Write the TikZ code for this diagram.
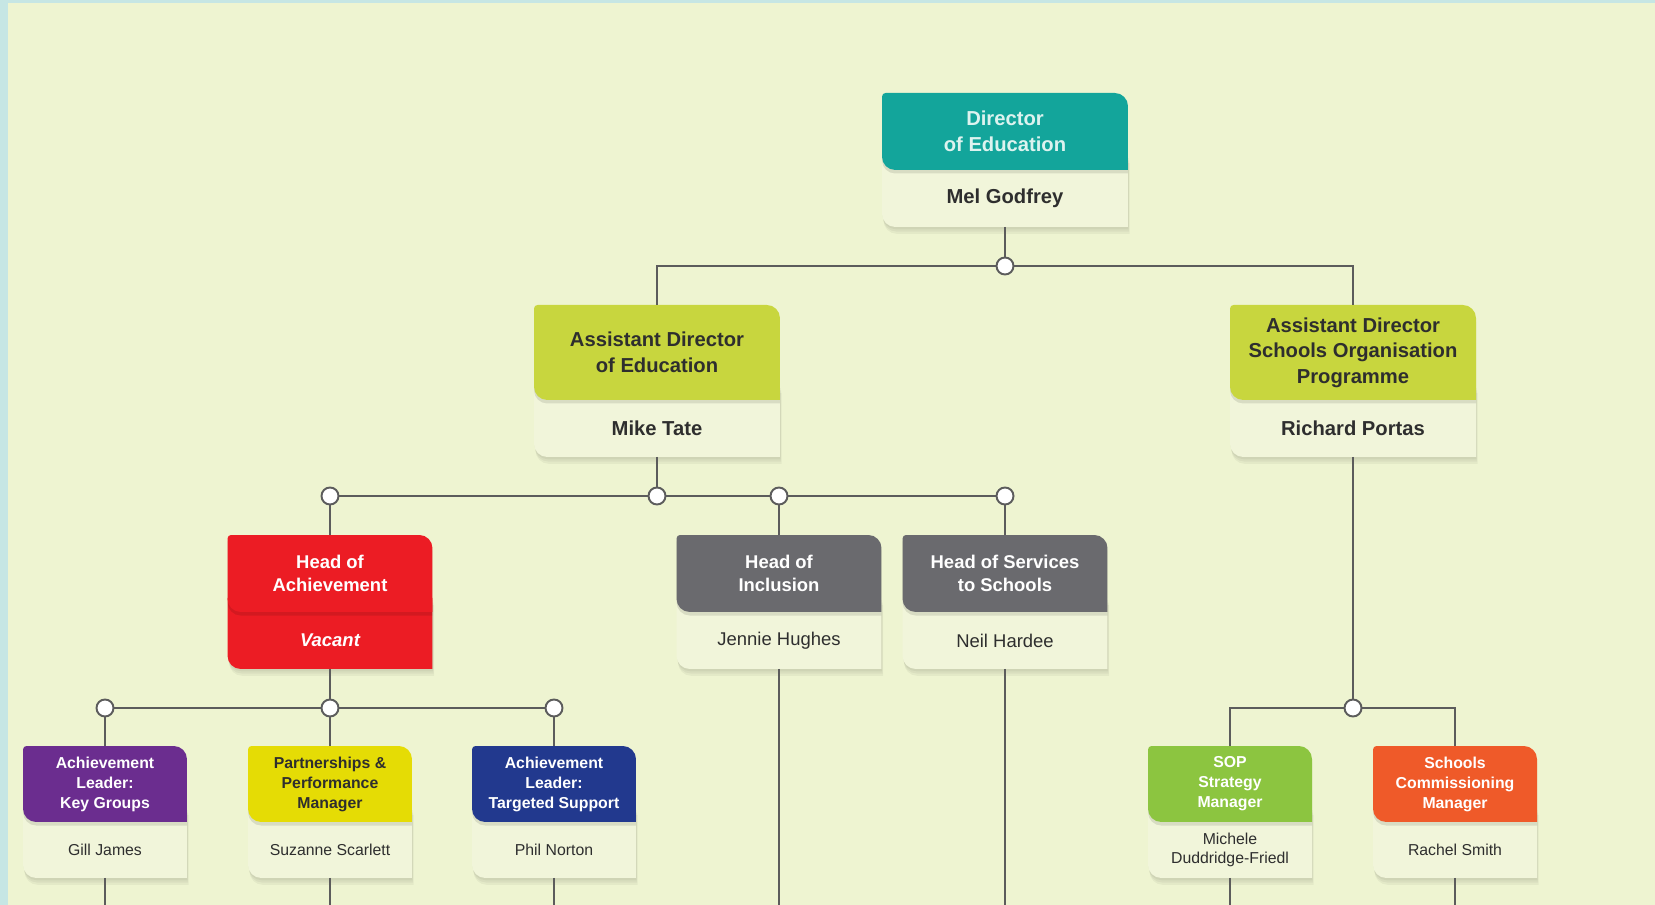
\documentclass[tikz,border=0pt]{standalone}
\usepackage{fontspec}
\setmainfont{Liberation Sans}
\usepackage{xcolor}
\definecolor{cFrame}{HTML}{C6E6E4}
\definecolor{cPage}{HTML}{EEF4D1}
\definecolor{cBody}{HTML}{F1F5DA}
\definecolor{cTeal}{HTML}{13A59B}
\definecolor{cLime}{HTML}{C8D63E}
\definecolor{cRed}{HTML}{EC1C24}
\definecolor{cGrey}{HTML}{6A6A6E}
\definecolor{cPurple}{HTML}{6B2D8F}
\definecolor{cYellow}{HTML}{E5DC05}
\definecolor{cNavy}{HTML}{22398E}
\definecolor{cGreen}{HTML}{8CC540}
\definecolor{cOrange}{HTML}{EF5A29}
\definecolor{cLine}{HTML}{5C5C5C}
\definecolor{cText}{HTML}{2E2E2E}
\definecolor{cDirText}{HTML}{DDF3EF}
\usepackage{tikz}
\usetikzlibrary{positioning,calc,backgrounds}
\tikzset{
  card/.style={align=center,inner sep=0pt,outer sep=0pt},
  head-l/.style={card,minimum width=4.92cm,minimum height=1.54cm,
    font=\fontsize{11.5}{14.5}\selectfont\bfseries,text=cText},
  head-m/.style={card,minimum width=4.1cm,minimum height=1.54cm,
    font=\fontsize{10.5}{13}\selectfont\bfseries,text=white},
  head-s/.style={card,minimum width=3.28cm,minimum height=1.52cm,
    font=\fontsize{9}{11.4}\selectfont\bfseries,text=white},
  name-l/.style={card,minimum width=4.92cm,minimum height=1.14cm,
    font=\fontsize{11.5}{14}\selectfont\bfseries,text=cText},
  name-m/.style={card,minimum width=4.1cm,minimum height=1.14cm,
    font=\fontsize{10.5}{13}\selectfont,text=cText},
  name-s/.style={card,minimum width=3.28cm,minimum height=1.12cm,
    font=\fontsize{9}{11}\selectfont,text=cText},
  junction/.style={circle,draw=cLine,fill=white,line width=1.1pt,
    minimum size=0.34cm,inner sep=0pt},
  link/.style={draw=cLine,line width=1.4pt},
}
% header + body shapes of one card, drawn behind its two text nodes
\newcommand\headpath[1]{(#1.south east) -- ([yshift=-7.5pt]#1.north east)
  arc[start angle=0,end angle=90,radius=7.5pt] -- ([xshift=2pt]#1.north west)
  arc[start angle=90,end angle=180,radius=2pt] -- ([yshift=7.5pt]#1.south west)
  arc[start angle=180,end angle=270,radius=7.5pt] -- cycle}
\newcommand\bodypath[1]{([yshift=8pt]#1-n.north east) -- (#1-n.south east)
  -- ([xshift=7.5pt]#1-n.south west) arc[start angle=270,end angle=180,radius=7.5pt]
  -- ([yshift=8pt]#1-n.north west) -- cycle}
\newcommand\cardbg[3]{%
  \begin{scope}[on background layer]
    \foreach \s in {1,2,3}{
      \begin{scope}[transform canvas={shift={(0.3*\s pt,-1.3*\s pt)}}]
        \fill[black,opacity=.045] \bodypath{#1};
      \end{scope}}
    \fill[#3] \bodypath{#1};
    \begin{scope}[transform canvas={shift={(0pt,-2pt)}}]
      \fill[black,opacity=.10] \headpath{#1};
    \end{scope}
    \fill[#2] \headpath{#1};
  \end{scope}}

\begin{document}
\begin{tikzpicture}[x=0.02cm,y=-0.02cm]
  \useasboundingbox (0,0) rectangle (1655,905);
  \begin{scope}[on background layer]
    \fill[cFrame] (0,0) rectangle (1655,905);
    \fill[cPage] (8,3) rectangle (1655,905);
  \end{scope}
  \coordinate (page-bottom) at (0,905);

  % top tiers
  \node[head-l,anchor=north,text=cDirText] (dir)  at (1005,93) {Director\\of Education};
  \node[name-l,below=0pt of dir]           (dir-n) {Mel Godfrey};
  \node[head-l,anchor=north,minimum height=1.9cm] (aded) at (657,305) {Assistant Director\\of Education};
  \node[name-l,below=0pt of aded]          (aded-n) {Mike Tate};
  \node[head-l,anchor=north,minimum height=1.9cm] (adsop) at (1353,305)
    {Assistant Director\\Schools Organisation\\Programme};
  \node[name-l,below=0pt of adsop]         (adsop-n) {Richard Portas};

  % heads of service
  \node[head-m,anchor=north] (hach) at (330,535)  {Head of\\Achievement};
  \node[name-m,below=0pt of hach,text=white,font=\fontsize{10.5}{13}\selectfont\bfseries\itshape]
    (hach-n) {Vacant};
  \node[head-m,anchor=north] (hinc) at (779,535)  {Head of\\Inclusion};
  \node[name-m,below=0pt of hinc] (hinc-n) {Jennie Hughes};
  \node[head-m,anchor=north] (hsvc) at (1005,535) {Head of Services\\to Schools};
  \node[name-m,below=0pt of hsvc] (hsvc-n) {Neil Hardee};

  % managers
  \node[head-s,anchor=north] (algk) at (105,746)  {Achievement\\Leader:\\Key Groups};
  \node[name-s,below=0pt of algk] (algk-n) {Gill James};
  \node[head-s,anchor=north,text=cText] (ppm) at (330,746) {Partnerships \&\\Performance\\Manager};
  \node[name-s,below=0pt of ppm]  (ppm-n)  {Suzanne Scarlett};
  \node[head-s,anchor=north] (alts) at (554,746)  {Achievement\\Leader:\\Targeted Support};
  \node[name-s,below=0pt of alts] (alts-n) {Phil Norton};
  \node[head-s,anchor=north] (sop)  at (1230,746) {SOP\\Strategy\\Manager};
  \node[name-s,below=0pt of sop]  (sop-n)  {Michele\\Duddridge-Friedl};
  \node[head-s,anchor=north] (scm)  at (1455,746) {Schools\\Commissioning\\Manager};
  \node[name-s,below=0pt of scm]  (scm-n)  {Rachel Smith};

  \foreach \n/\h/\b in {dir/cTeal/cBody,aded/cLime/cBody,adsop/cLime/cBody,
      hach/cRed/cRed,hinc/cGrey/cBody,hsvc/cGrey/cBody,algk/cPurple/cBody,
      ppm/cYellow/cBody,alts/cNavy/cBody,sop/cGreen/cBody,scm/cOrange/cBody}
    \cardbg{\n}{\h}{\b};

  % connectors
  \draw[link] (dir-n.south) -- (1005,266) -| (aded.north);
  \draw[link] (1005,266) -| (adsop.north);
  \draw[link] (aded-n.south) -- (657,496) -| (hach.north);
  \draw[link] (657,496) -| (hsvc.north);
  \draw[link] (hinc.north) -- (hinc.north |- 657,496);
  \draw[link] (hach-n.south) -- (330,708) -| (algk.north);
  \draw[link] (330,708) -| (alts.north);
  \draw[link] (330,708) -- (ppm.north);
  \draw[link] (adsop-n.south) -- (1353,708) -| (sop.north);
  \draw[link] (1353,708) -| (scm.north);
  \foreach \n in {hinc,hsvc,algk,ppm,alts,sop,scm}
    \draw[link] (\n-n.south) -- (\n-n.south |- page-bottom);

  \node[junction] (j-dir)  at (1005,266) {};
  \node[junction] (j-aded) at (657,496) {};
  \node[junction] (j-hach) at (330,496) {};
  \node[junction] (j-hinc) at (779,496) {};
  \node[junction] (j-hsvc) at (1005,496) {};
  \node[junction] (j-mgr)  at (330,708) {};
  \node[junction] (j-algk) at (105,708) {};
  \node[junction] (j-alts) at (554,708) {};
  \node[junction] (j-sop)  at (1353,708) {};
\end{tikzpicture}
\end{document}
